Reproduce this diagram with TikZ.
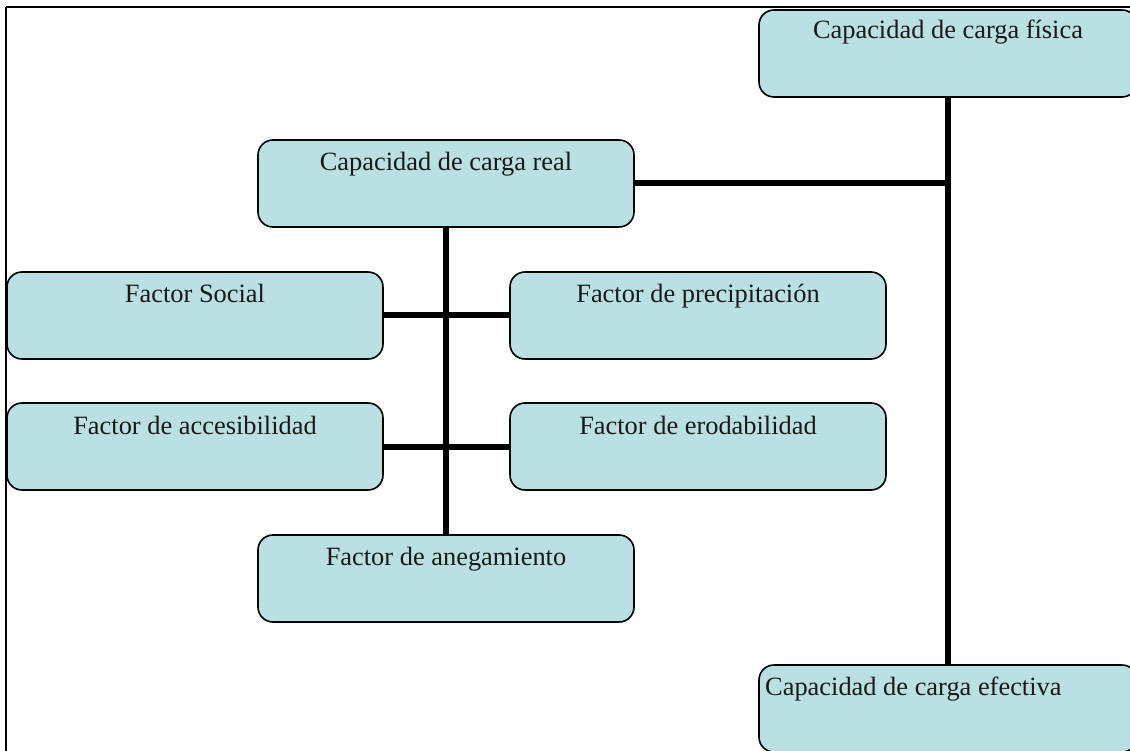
\documentclass[tikz,border=0pt]{standalone}
\usepackage{fontspec}
\setmainfont{Liberation Serif}
\definecolor{boxfill}{RGB}{186,224,227}
\begin{document}
\begin{tikzpicture}[x=1pt,y=-1pt,
  box/.style={draw=black, line width=1.6pt, fill=boxfill, rounded corners=15pt,
    rectangle, inner sep=0pt, outer sep=0pt, minimum width=#1, minimum height=87pt, anchor=north west},
  box/.default=376pt,
  lbl/.style={font=\fontsize{26.4}{30}\selectfont, inner sep=0pt, anchor=base, text=black!90},
  conn/.style={line width=6pt}
]
\useasboundingbox (0,0) rectangle (1130,751);
\clip (0,0) rectangle (1130,751);
% frame
\draw[line width=2pt] (6,7.5) -- (1140,7.5);
\draw[line width=1.6pt] (6,7.5) -- (6,760);
% boxes
\node[box=378pt] (fis) at (759,10) {};
\node[box] (real) at (258,140) {};
\node[box] (social) at (7,272) {};
\node[box] (precip) at (510,272) {};
\node[box] (acces) at (7,403) {};
\node[box] (erod) at (510,403) {};
\node[box] (aneg) at (258,535) {};
\node[box=378pt] (eff) at (759,665) {};
% connectors
\draw[conn] (fis.south) -- (eff.north);
\draw[conn] (real.east) -- (real.east -| fis.south);
\draw[conn] (real.south) -- (aneg.north);
\draw[conn] (social.east) -- (precip.west);
\draw[conn] (acces.east) -- (erod.west);
% labels
\node[lbl] (fist) at ([yshift=-28.5pt]fis.north) {Capacidad de carga física};
\node[lbl] (realt) at ([yshift=-31pt]real.north) {Capacidad de carga real};
\node[lbl] (socialt) at ([yshift=-31pt]social.north) {Factor Social};
\node[lbl] (precipt) at ([yshift=-31pt]precip.north) {Factor de precipitación};
\node[lbl] (accest) at ([yshift=-31pt]acces.north) {Factor de accesibilidad};
\node[lbl] (erodt) at ([yshift=-31pt]erod.north) {Factor de erodabilidad};
\node[lbl] (anegt) at ([yshift=-30pt]aneg.north) {Factor de anegamiento};
\node[lbl, anchor=base west] (efft) at ([xshift=6pt,yshift=-30pt]eff.north west) {Capacidad de carga efectiva};
\end{tikzpicture}
\end{document}
